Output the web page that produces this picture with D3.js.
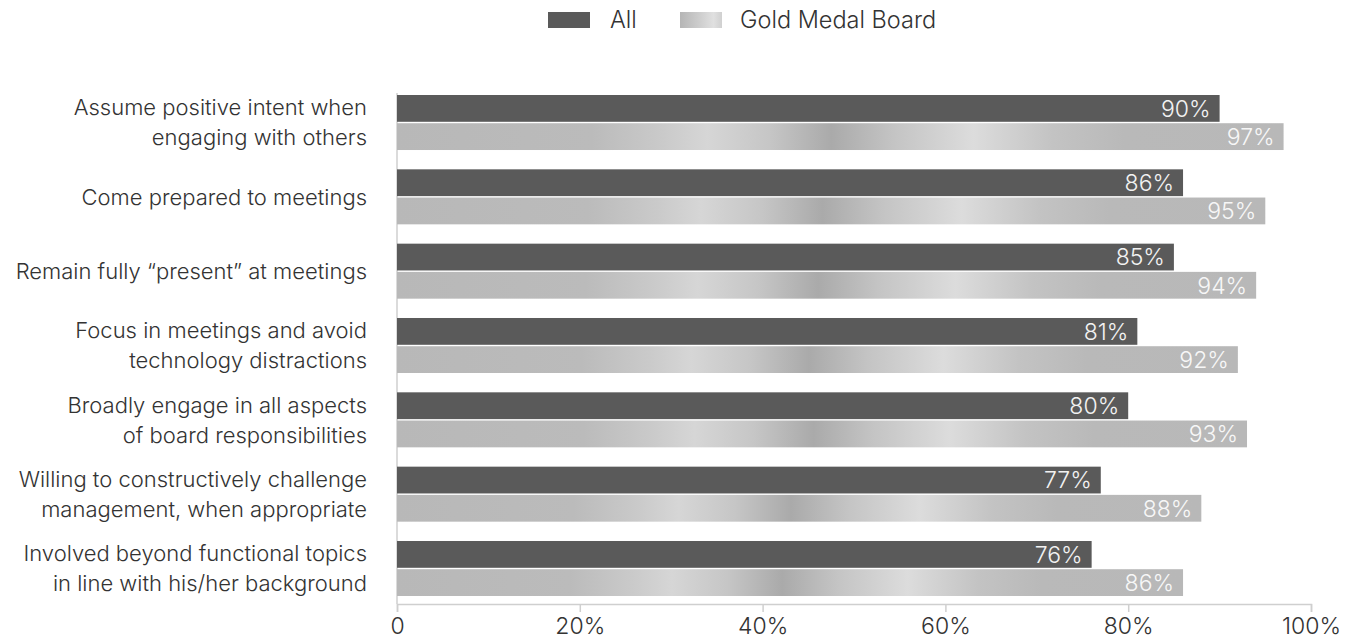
<!DOCTYPE html>
<html>
<head>
<meta charset="utf-8">
<script src="https://cdn.jsdelivr.net/npm/d3@7"></script>
<style>
  html, body { margin: 0; padding: 0; background: #fff; }
  svg { display: block; font-family: Inter, "Open Sans", sans-serif; }
</style>
</head>
<body>
<svg id="chart" width="1358" height="643"></svg>
<script>
// Board behaviours: share of respondents, all boards vs. gold medal boards
const categories = [
  ["Assume positive intent when", "engaging with others"],
  ["Come prepared to meetings"],
  ["Remain fully \u201cpresent\u201d at meetings"],
  ["Focus in meetings and avoid", "technology distractions"],
  ["Broadly engage in all aspects", "of board responsibilities"],
  ["Willing to constructively challenge", "management, when appropriate"],
  ["Involved beyond functional topics", "in line with his/her background"]
];
const seriesNames = ["All", "Gold Medal Board"];
const allValues = [90, 86, 85, 81, 80, 77, 76];
const goldValues = [97, 95, 94, 92, 93, 88, 86];
const tickValues = [0, 20, 40, 60, 80, 100];

const FONT = "Inter, 'Open Sans', sans-serif";
const svg = d3.select("#chart");
const defs = svg.append("defs");

// Brushed-metal style gradient for the gold medal bars
const grad = defs.append("linearGradient")
  .attr("id", "metal")
  .attr("x1", "0%").attr("x2", "100%").attr("y1", "0%").attr("y2", "0%");
[
  [0.00, "#b8b8b8"], [0.22, "#bbbbbb"], [0.30, "#cacaca"], [0.35, "#d6d6d6"],
  [0.42, "#c6c6c6"], [0.49, "#aaaaaa"], [0.56, "#c4c4c4"], [0.65, "#dcdcdc"],
  [0.74, "#c3c3c3"], [0.82, "#b9b9b9"], [1.00, "#b8b8b8"]
].forEach(([o, c]) => grad.append("stop").attr("offset", o).attr("stop-color", c));

const legendGrad = defs.append("linearGradient")
  .attr("id", "metalLegend")
  .attr("x1", "0%").attr("x2", "100%");
[[0, "#b5b5b5"], [0.5, "#cfcfcf"], [0.8, "#e0e0e0"], [1, "#d0d0d0"]]
  .forEach(([o, c]) => legendGrad.append("stop").attr("offset", o).attr("stop-color", c));

const x = d3.scaleLinear().domain([0, 100]).range([397, 1311]);
const y = d3.scaleBand().domain(d3.range(categories.length)).range([95, 596])
  .paddingInner(0.26).paddingOuter(0);
const ySub = d3.scaleBand().domain([0, 1]).range([0, y.bandwidth()]).paddingInner(0.05);

const fills = ["#5a5a5a", "url(#metal)"];
const series = [allValues, goldValues];

// Axis along the bottom
const axisY = 604;
const axis = svg.append("g")
  .attr("transform", `translate(0,${axisY})`)
  .call(d3.axisBottom(x).tickValues(tickValues)
    .tickFormat(d => d === 0 ? "0" : d + "%")
    .tickSize(8).tickPadding(6));
axis.select(".domain").attr("stroke", "#cfcfcf").attr("stroke-width", 1.5);
axis.selectAll(".tick line").attr("stroke", "#cfcfcf").attr("stroke-width", 1.5);
axis.selectAll(".tick text")
  .attr("fill", "#333").attr("font-size", 23).attr("font-weight", 300)
  .attr("font-family", FONT);

// Baseline on the left
svg.append("line")
  .attr("x1", x(0)).attr("x2", x(0))
  .attr("y1", 93).attr("y2", axisY)
  .attr("stroke", "#cfcfcf").attr("stroke-width", 1.5);

// Bars
const groups = svg.append("g").selectAll("g")
  .data(categories.map((c, i) => i))
  .join("g")
  .attr("transform", i => `translate(0,${y(i)})`);

series.forEach((vals, s) => {
  groups.append("rect")
    .attr("x", x(0))
    .attr("y", ySub(s))
    .attr("width", i => x(vals[i]) - x(0))
    .attr("height", ySub.bandwidth())
    .attr("fill", fills[s]);

  groups.append("text")
    .attr("x", i => x(vals[i]) - 9)
    .attr("y", ySub(s) + ySub.bandwidth() / 2)
    .attr("dy", "0.36em")
    .attr("text-anchor", "end")
    .attr("fill", s === 0 ? "#f2f2f2" : "#f7f7f7")
    .attr("font-size", 23)
    .attr("font-weight", 300)
    .text(i => vals[i] + "%");
});

// Category labels
const lineH = 30;
groups.each(function (i) {
  const lines = categories[i];
  const cy = y.bandwidth() / 2;
  const t = d3.select(this).append("text")
    .attr("text-anchor", "end")
    .attr("fill", "#333")
    .attr("font-size", 22)
    .attr("font-weight", 300);
  lines.forEach((ln, k) => {
    t.append("tspan")
      .attr("x", 367)
      .attr("y", cy + (k - (lines.length - 1) / 2) * lineH)
      .attr("dy", "0.36em")
      .text(ln);
  });
});

// Legend
const legend = svg.append("g");
const legendItems = [
  { name: seriesNames[0], fill: "#5a5a5a", sx: 548, tx: 610 },
  { name: seriesNames[1], fill: "url(#metalLegend)", sx: 680, tx: 740 }
];
legendItems.forEach(d => {
  legend.append("rect").attr("x", d.sx).attr("y", 12).attr("width", 42).attr("height", 16).attr("fill", d.fill);
  legend.append("text").attr("x", d.tx).attr("y", 20).attr("dy", "0.36em")
    .attr("fill", "#333").attr("font-size", 23.5).attr("font-weight", 300).text(d.name);
});
</script>
</body>
</html>
